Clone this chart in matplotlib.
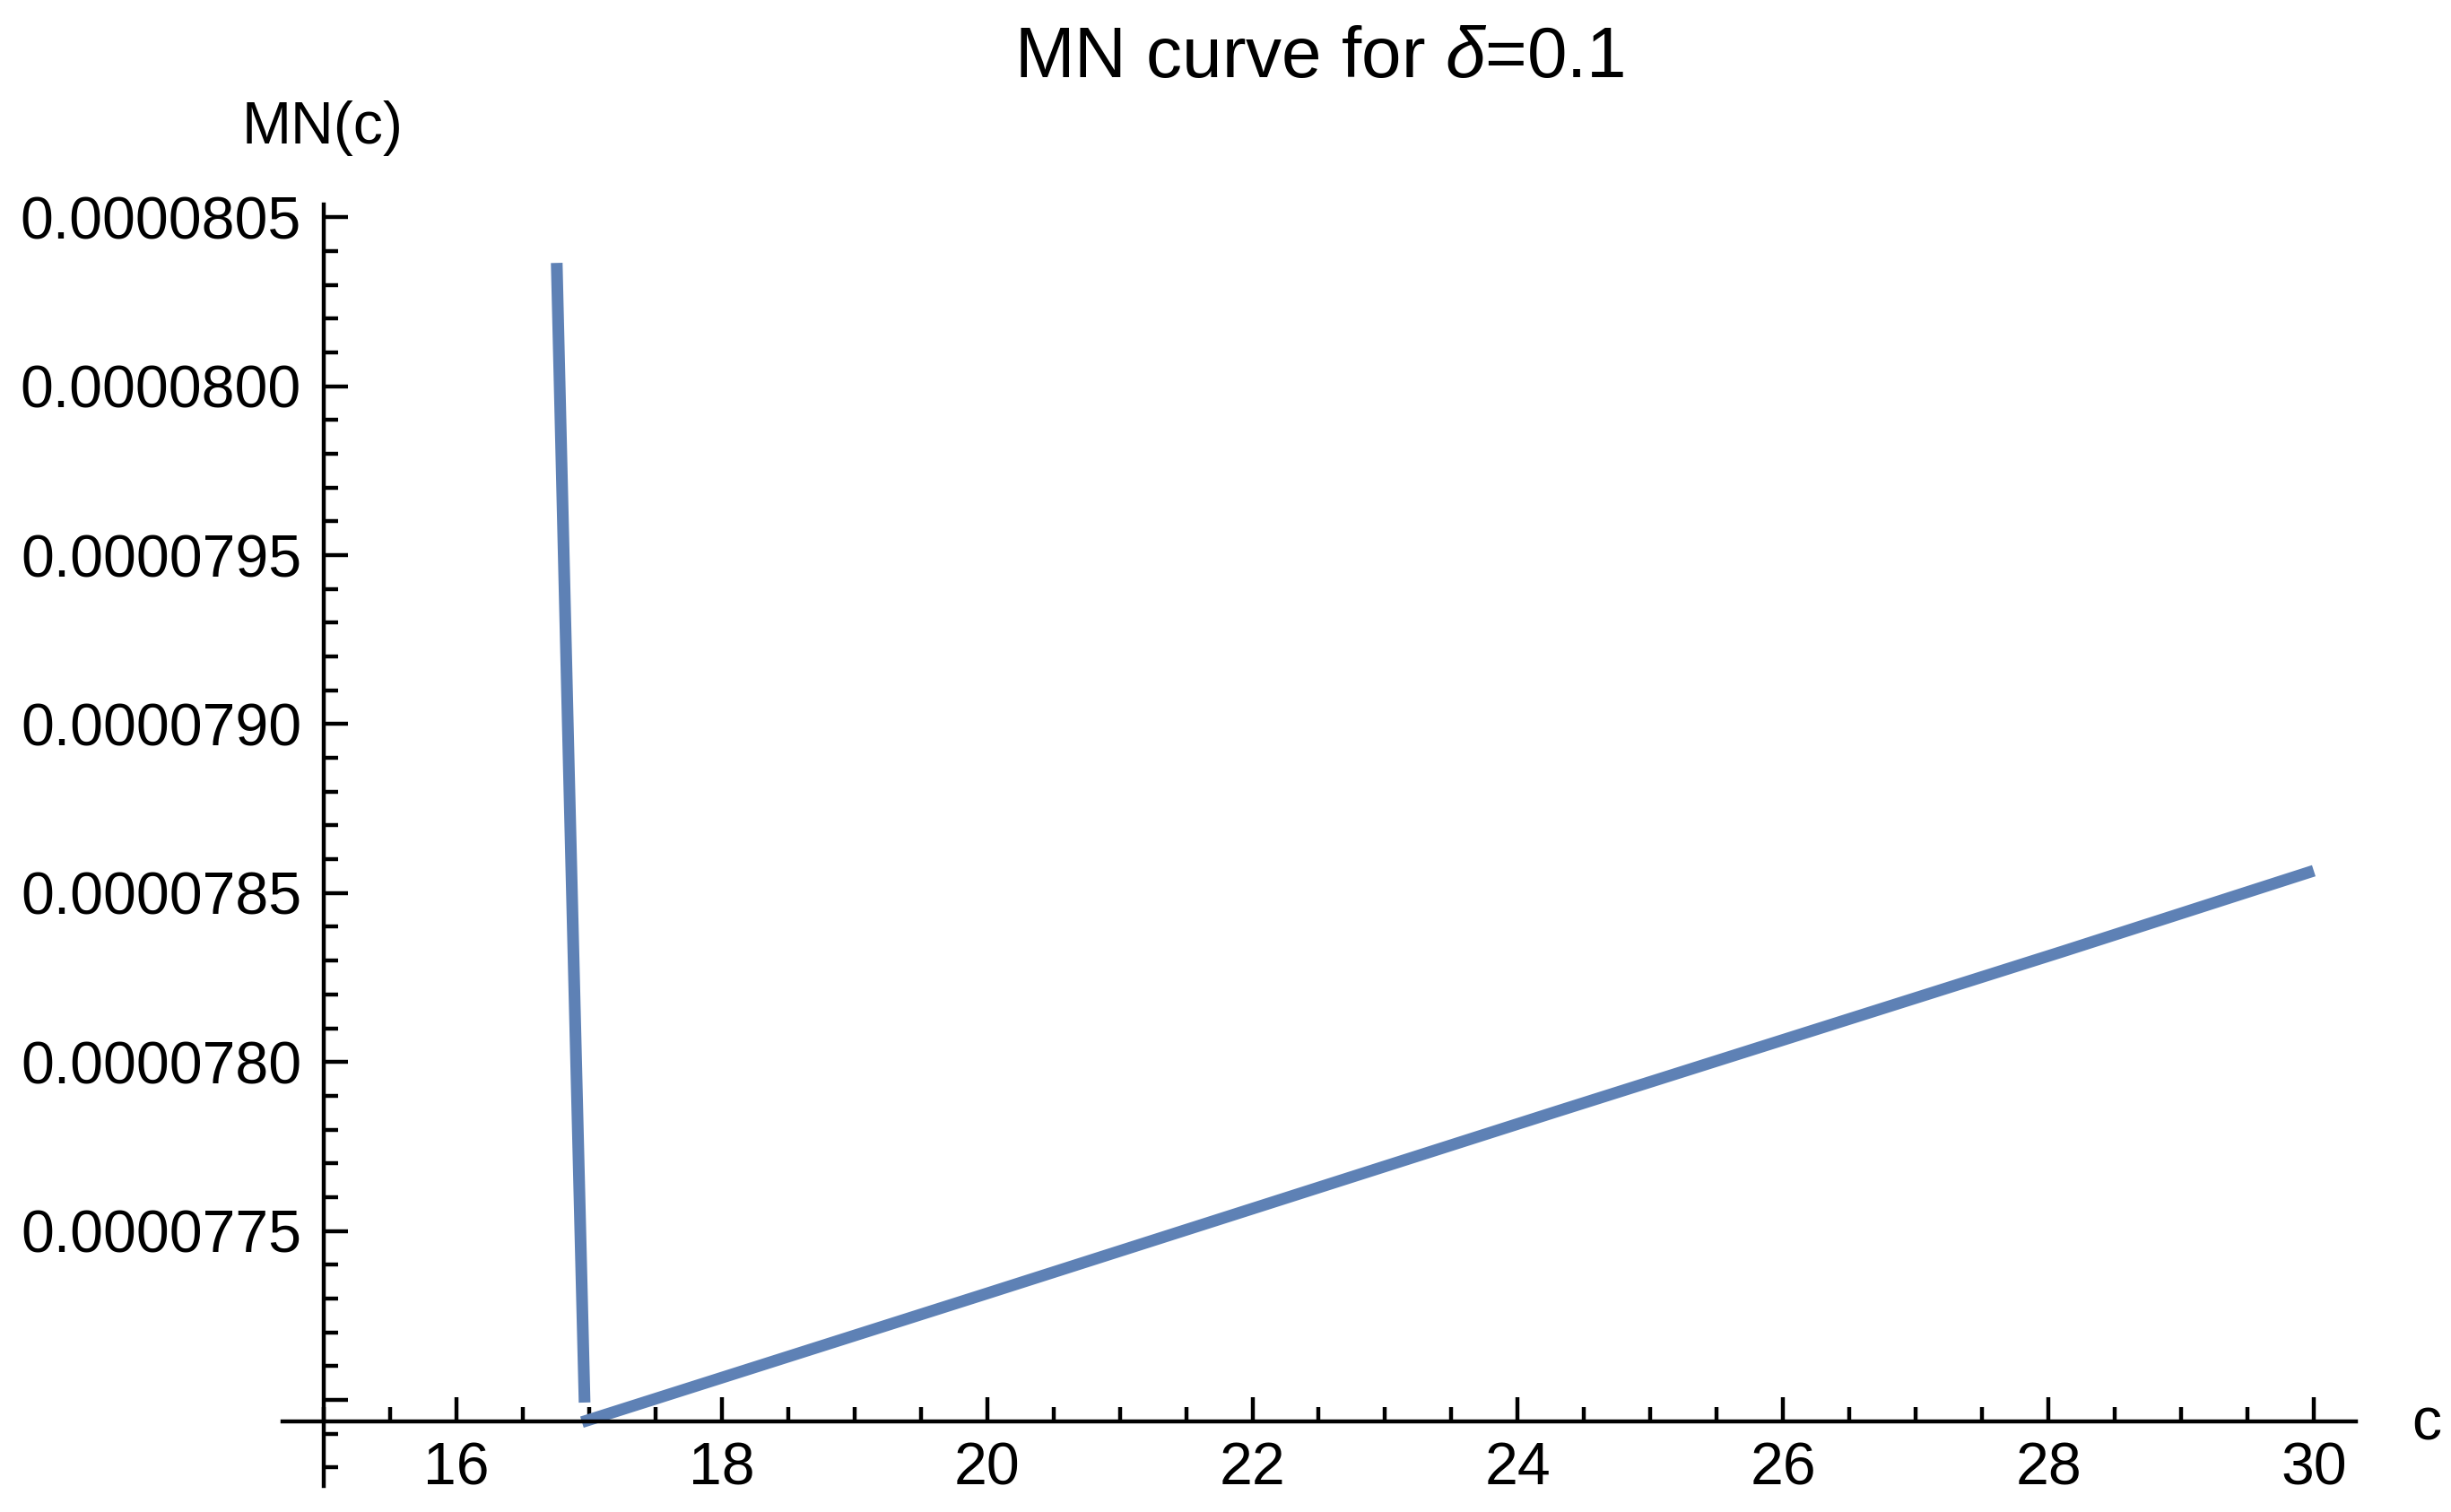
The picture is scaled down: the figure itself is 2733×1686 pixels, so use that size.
import numpy as np
import matplotlib.pyplot as plt
from matplotlib.ticker import FixedLocator, FuncFormatter

plt.rcParams['font.family'] = ['Liberation Sans', 'DejaVu Sans']
plt.rcParams['mathtext.fontset'] = 'custom'
plt.rcParams['mathtext.it'] = 'Liberation Sans:italic'
plt.rcParams['mathtext.rm'] = 'Liberation Sans'

# datos
c_izq = [16.756, 16.848, 16.966]
mn_izq = [8.0365e-5, 7.8860e-5, 7.6992e-5]

c_der = [16.946, 20.0, 24.274, 28.107, 30.0]
mn_der = [7.6934e-5, 7.7315e-5, 7.7851e-5, 7.8327e-5, 7.8566e-5]

yticks_major = [7.70e-5, 7.75e-5, 7.80e-5, 7.85e-5, 7.90e-5, 7.95e-5, 8.00e-5, 8.05e-5]
xticks_major = [16, 18, 20, 22, 24, 26, 28, 30]

azul = '#5E81B5'

fig = plt.figure(figsize=(13.665, 8.43), dpi=200)
ax = fig.add_axes([0.11526, 0.0172, 0.84596, 0.84757])

ax.plot(c_izq, mn_izq, color=azul, lw=4.7, solid_capstyle='butt')
ax.plot(c_der, mn_der, color=azul, lw=4.7, solid_capstyle='butt')

ax.set_xlim(14.689, 30.318)
ax.set_ylim(7.6745e-5, 8.0538e-5)

ax.spines['top'].set_visible(False)
ax.spines['right'].set_visible(False)
ax.spines['left'].set_position(('data', 15))
ax.spines['bottom'].set_position(('data', 7.69363e-5))
for s in ['left', 'bottom']:
    ax.spines[s].set_linewidth(1.6)

ax.xaxis.set_major_locator(FixedLocator(xticks_major))
ax.xaxis.set_minor_locator(FixedLocator(np.arange(15, 30.51, 0.5)))
ax.yaxis.set_major_locator(FixedLocator(yticks_major))
ax.yaxis.set_minor_locator(FixedLocator(np.arange(7.67e-5, 8.055e-5, 1e-7)))

def fmt_y(v, pos):
    if abs(v - 7.70e-5) < 1e-9:
        return ''
    return '%.7f' % v

ax.yaxis.set_major_formatter(FuncFormatter(fmt_y))
ax.xaxis.set_major_formatter(FuncFormatter(lambda v, p: '%d' % v))

ax.tick_params(which='both', direction='in', width=1.6, labelsize=23.8, colors='black')
ax.tick_params(which='major', length=9.7)
ax.tick_params(which='minor', length=5.8)
ax.tick_params(axis='x', which='major', pad=8)
ax.tick_params(axis='y', which='major', pad=9)

fig.text(0.5382, 0.9614, r'MN curve for $\delta$=0.1', fontsize=28.8, ha='center', va='center')
fig.text(0.1317, 0.9152, 'MN(c)', fontsize=23.8, ha='center', va='center')
fig.text(0.9839, 0.0581, 'c', fontsize=23.8, ha='left', va='center')

plt.savefig('out.png', dpi=200)
